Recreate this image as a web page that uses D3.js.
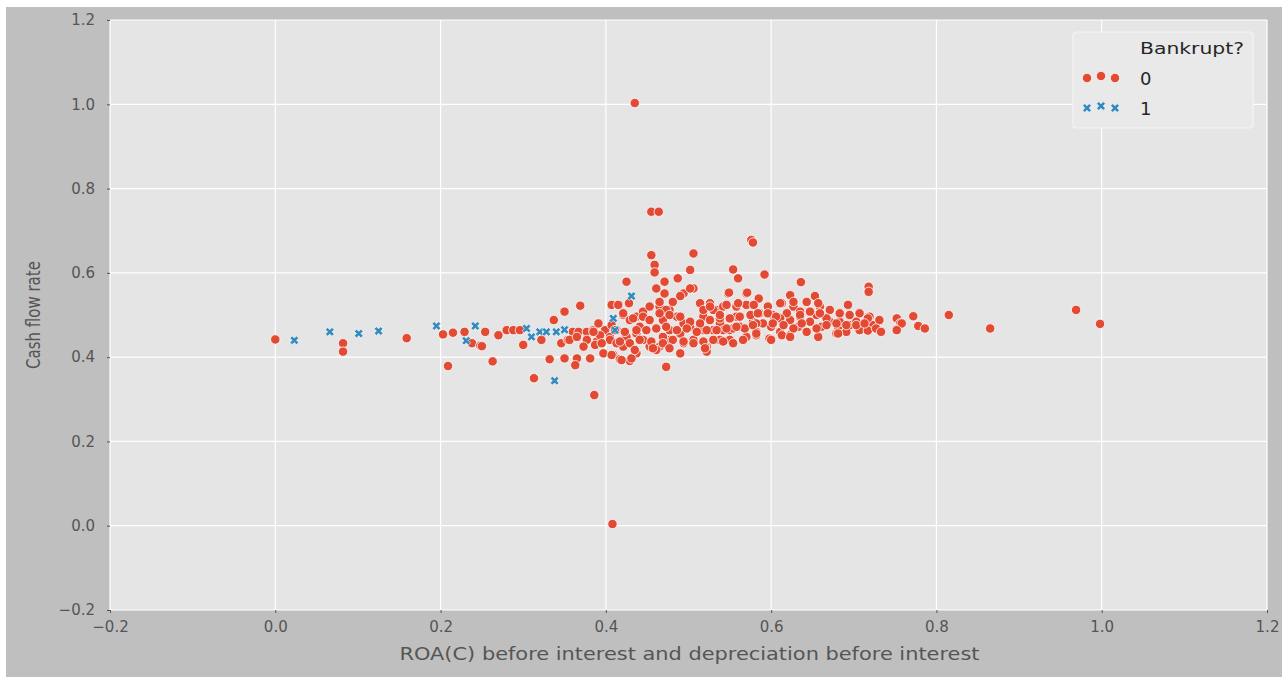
<!DOCTYPE html>
<html><head><meta charset="utf-8">
<script src="https://cdn.jsdelivr.net/npm/d3@7"></script>
<style>body{margin:0;background:#fff;} svg{display:block;} text{font-family:"DejaVu Sans",sans-serif;}</style>
</head><body><svg id="c" width="1282" height="677"></svg>
<script>
// ---- data ----
const xLabel = "ROA(C) before interest and depreciation before interest";
const yLabel = "Cash flow rate";
const legendTitle = "Bankrupt?";
const classes = ["0", "1"];
const xTicks = [-0.2, 0.0, 0.2, 0.4, 0.6, 0.8, 1.0, 1.2];
const yTicks = [-0.2, 0.0, 0.2, 0.4, 0.6, 0.8, 1.0, 1.2];

// Bankrupt? = 0  : [ROA(C), cash flow rate]
const points0 = [
[0.000,0.442],[0.082,0.433],[0.082,0.413],[0.159,0.445],[0.203,0.454],[0.215,0.458],[0.209,0.379],[0.229,0.460],[0.238,0.433],[0.248,0.427],
[0.254,0.460],[0.250,0.426],[0.270,0.452],[0.280,0.464],[0.288,0.464],[0.296,0.464],[0.263,0.390],[0.300,0.429],[0.322,0.441],[0.313,0.350],
[0.332,0.395],[0.337,0.488],[0.350,0.508],[0.369,0.522],[0.346,0.433],[0.354,0.441],[0.360,0.460],[0.367,0.460],[0.377,0.460],[0.385,0.464],
[0.391,0.480],[0.399,0.464],[0.405,0.448],[0.350,0.397],[0.365,0.397],[0.363,0.381],[0.381,0.397],[0.397,0.409],[0.409,0.405],[0.386,0.310],
[0.356,0.441],[0.365,0.448],[0.377,0.441],[0.373,0.425],[0.389,0.437],[0.393,0.452],[0.385,0.460],[0.405,0.441],[0.407,0.405],[0.417,0.395],
[0.429,0.391],[0.421,0.425],[0.413,0.433],[0.425,0.448],[0.407,0.476],[0.413,0.464],[0.407,0.524],[0.415,0.524],[0.425,0.579],[0.428,0.528],
[0.421,0.500],[0.429,0.488],[0.437,0.496],[0.445,0.508],[0.453,0.520],[0.461,0.563],[0.471,0.551],[0.471,0.579],[0.487,0.587],[0.455,0.642],
[0.459,0.619],[0.459,0.601],[0.506,0.646],[0.502,0.607],[0.494,0.551],[0.506,0.563],[0.514,0.528],[0.526,0.528],[0.534,0.512],[0.548,0.551],
[0.554,0.608],[0.560,0.587],[0.570,0.551],[0.477,0.512],[0.486,0.496],[0.469,0.488],[0.465,0.520],[0.441,0.472],[0.449,0.464],[0.437,0.456],
[0.445,0.441],[0.453,0.425],[0.465,0.425],[0.437,0.409],[0.477,0.441],[0.490,0.456],[0.502,0.472],[0.514,0.472],[0.526,0.464],[0.538,0.480],
[0.550,0.464],[0.562,0.472],[0.570,0.448],[0.477,0.464],[0.469,0.448],[0.461,0.417],[0.473,0.377],[0.494,0.433],[0.506,0.441],[0.522,0.425],
[0.538,0.441],[0.550,0.441],[0.558,0.496],[0.542,0.520],[0.518,0.496],[0.494,0.480],
[0.435,1.003],[0.455,0.745],[0.464,0.745],[0.576,0.678],[0.578,0.672],[0.408,0.004],[0.592,0.596],[0.636,0.578],[0.718,0.567],[0.718,0.555],
[0.549,0.553],[0.571,0.553],[0.585,0.539],[0.623,0.547],[0.653,0.545],[0.643,0.531],[0.613,0.528],[0.693,0.524],[0.772,0.497],[0.815,0.500],
[0.778,0.474],[0.786,0.468],[0.865,0.468],[0.969,0.512],[0.998,0.479],
[0.752,0.492],[0.756,0.480],[0.752,0.466],[0.731,0.486],[0.731,0.463],[0.719,0.496],[0.707,0.504],[0.695,0.500],[0.707,0.464],[0.695,0.476],
[0.691,0.460],[0.679,0.456],[0.681,0.472],[0.671,0.512],[0.671,0.484],[0.655,0.500],[0.657,0.448],[0.643,0.460],[0.647,0.484],[0.635,0.496],
[0.633,0.472],[0.623,0.488],[0.619,0.504],[0.611,0.492],[0.611,0.460],[0.598,0.444],[0.600,0.472],[0.590,0.480],[0.586,0.504],[0.578,0.484],
[0.568,0.468],[0.562,0.496],[0.554,0.468],[0.542,0.464],[0.530,0.464],[0.520,0.425],[0.522,0.413],[0.538,0.492],[0.530,0.512],[0.518,0.512],
[0.518,0.464],[0.558,0.520],[0.570,0.524],[0.596,0.520],[0.602,0.500],[0.627,0.520],[0.635,0.508],[0.659,0.520],[0.667,0.492],[0.683,0.484],
[0.703,0.484],[0.723,0.476],[0.717,0.463],[0.661,0.472],[0.623,0.452],[0.582,0.452],
[0.502,0.563],[0.490,0.545],[0.481,0.531],[0.473,0.512],[0.465,0.531],[0.526,0.520],[0.546,0.524],[0.560,0.528],
[0.421,0.504],[0.433,0.492],[0.445,0.496],[0.453,0.488],[0.465,0.504],[0.477,0.500],[0.490,0.496],[0.502,0.484],[0.514,0.480],[0.526,0.488],
[0.538,0.500],[0.550,0.492],[0.575,0.500],[0.582,0.480],
[0.411,0.464],[0.423,0.460],[0.437,0.464],[0.461,0.468],[0.473,0.472],[0.486,0.464],[0.498,0.468],[0.510,0.460],[0.522,0.464],[0.534,0.464],
[0.546,0.468],[0.558,0.472],[0.582,0.460],
[0.417,0.437],[0.429,0.433],[0.441,0.441],[0.455,0.437],[0.469,0.433],[0.481,0.441],[0.494,0.437],[0.506,0.433],[0.518,0.437],[0.530,0.441],
[0.542,0.437],[0.554,0.433],[0.566,0.441],
[0.419,0.393],[0.431,0.397],[0.435,0.417],[0.457,0.421],[0.477,0.421],[0.490,0.409],[0.520,0.421],
[0.611,0.528],[0.627,0.531],[0.657,0.528],
[0.579,0.524],[0.584,0.504],[0.596,0.504],[0.606,0.496],[0.635,0.500],[0.647,0.508],[0.659,0.504],[0.683,0.504],[0.717,0.492],[0.731,0.488],
[0.758,0.480],
[0.578,0.476],[0.602,0.480],[0.615,0.476],[0.627,0.468],[0.637,0.480],[0.655,0.468],[0.667,0.476],[0.679,0.480],[0.691,0.476],[0.703,0.476],
[0.713,0.480],[0.727,0.468],
[0.582,0.456],[0.600,0.441],[0.613,0.452],[0.623,0.448],[0.681,0.456],[0.733,0.460],[0.752,0.464],
[0.387,0.429],[0.395,0.433]
];

// Bankrupt? = 1
const points1 = [
[0.023,0.440],[0.066,0.460],[0.101,0.456],[0.125,0.462],[0.195,0.474],[0.231,0.439],[0.242,0.474],[0.304,0.468],[0.310,0.448],[0.320,0.460],
[0.328,0.460],[0.340,0.460],[0.338,0.344],[0.409,0.492],[0.411,0.464],[0.431,0.545],[0.350,0.465]
];

const colors = ["#E24A33", "#348ABD"];

// ---- layout ----
const svg = d3.select("#c");
const W = 1282, H = 677;
const plot = {l: 110, r: 1267, t: 20, b: 610};

svg.append("rect").attr("x", 6).attr("y", 7).attr("width", W - 6).attr("height", H - 7).attr("fill", "#bfbfbf");
svg.append("rect").attr("x", plot.l).attr("y", plot.t).attr("width", plot.r - plot.l).attr("height", plot.b - plot.t).attr("fill", "#e5e5e5");

const x = d3.scaleLinear().domain([-0.2, 1.2]).range([plot.l, plot.r]);
const y = d3.scaleLinear().domain([-0.2, 1.2]).range([plot.b, plot.t]);
const fmt = d3.format(".1f");

// grid
svg.append("g").selectAll("line").data(xTicks).join("line")
  .attr("x1", d => x(d)).attr("x2", d => x(d)).attr("y1", plot.t).attr("y2", plot.b)
  .attr("stroke", "#fff").attr("stroke-width", 1.2);
svg.append("g").selectAll("line").data(yTicks).join("line")
  .attr("y1", d => y(d)).attr("y2", d => y(d)).attr("x1", plot.l).attr("x2", plot.r)
  .attr("stroke", "#fff").attr("stroke-width", 1.2);

// axes
const xAxis = svg.append("g").attr("transform", `translate(0,${plot.b})`)
  .call(d3.axisBottom(x).tickValues(xTicks).tickFormat(fmt).tickSize(3).tickPadding(8));
const yAxis = svg.append("g").attr("transform", `translate(${plot.l},0)`)
  .call(d3.axisLeft(y).tickValues(yTicks).tickFormat(fmt).tickSize(3).tickPadding(12));
[xAxis, yAxis].forEach(a => {
  a.select(".domain").remove();
  a.selectAll(".tick line").attr("stroke", "#555");
  a.selectAll(".tick text").attr("fill", "#555").attr("font-size", 15).attr("font-family", "DejaVu Sans");
});

// axis labels
svg.append("text").attr("x", (plot.l + plot.r) / 2 + 1).attr("y", 660)
  .attr("text-anchor", "middle").attr("font-size", 17).attr("fill", "#555")
  .attr("textLength", 580).attr("lengthAdjust", "spacingAndGlyphs").text(xLabel);
svg.append("text").attr("transform", `translate(40,${(plot.t + plot.b) / 2}) scale(1.3,1) rotate(-90)`)
  .attr("text-anchor", "middle").attr("font-size", 15).attr("fill", "#555").text(yLabel);

// points
const xSym = d3.symbol().type(d3.symbolCross).size(48);
svg.append("g").selectAll("circle").data(points0).join("circle")
  .attr("cx", d => x(d[0])).attr("cy", d => y(d[1])).attr("r", 4.7)
  .attr("fill", colors[0]).attr("stroke", "#fff").attr("stroke-width", 0.8);
svg.append("g").selectAll("path").data(points1).join("path")
  .attr("d", xSym).attr("transform", d => `translate(${x(d[0])},${y(d[1])}) rotate(45)`)
  .attr("fill", colors[1]).attr("stroke", "#fff").attr("stroke-width", 0.6);

// legend
const lg = svg.append("g");
lg.append("rect").attr("x", 1073).attr("y", 32).attr("width", 180).attr("height", 96).attr("rx", 3)
  .attr("fill", "#e9e9e9").attr("stroke", "#f4f4f4").attr("stroke-width", 1.2);
lg.append("text").attr("x", 1140).attr("y", 54).attr("font-size", 16).attr("fill", "#262626")
  .attr("textLength", 104).attr("lengthAdjust", "spacingAndGlyphs").text(legendTitle);
const mx = [1087, 1101, 1115], my = [0, -2, 0];
classes.forEach((c, i) => {
  const cy = 78 + i * 30;
  if (i === 0) {
    lg.append("g").selectAll("circle").data(mx).join("circle")
      .attr("cx", d => d).attr("cy", (d, j) => cy + my[j]).attr("r", 4.7)
      .attr("fill", colors[0]).attr("stroke", "#fff").attr("stroke-width", 0.8);
  } else {
    lg.append("g").selectAll("path").data(mx).join("path")
      .attr("d", xSym).attr("transform", (d, j) => `translate(${d},${cy + my[j]}) rotate(45)`)
      .attr("fill", colors[1]).attr("stroke", "#fff").attr("stroke-width", 0.6);
  }
  lg.append("text").attr("x", 1140).attr("y", cy + 7).attr("font-size", 18).attr("fill", "#262626").text(c);
});
</script>
</body></html>
